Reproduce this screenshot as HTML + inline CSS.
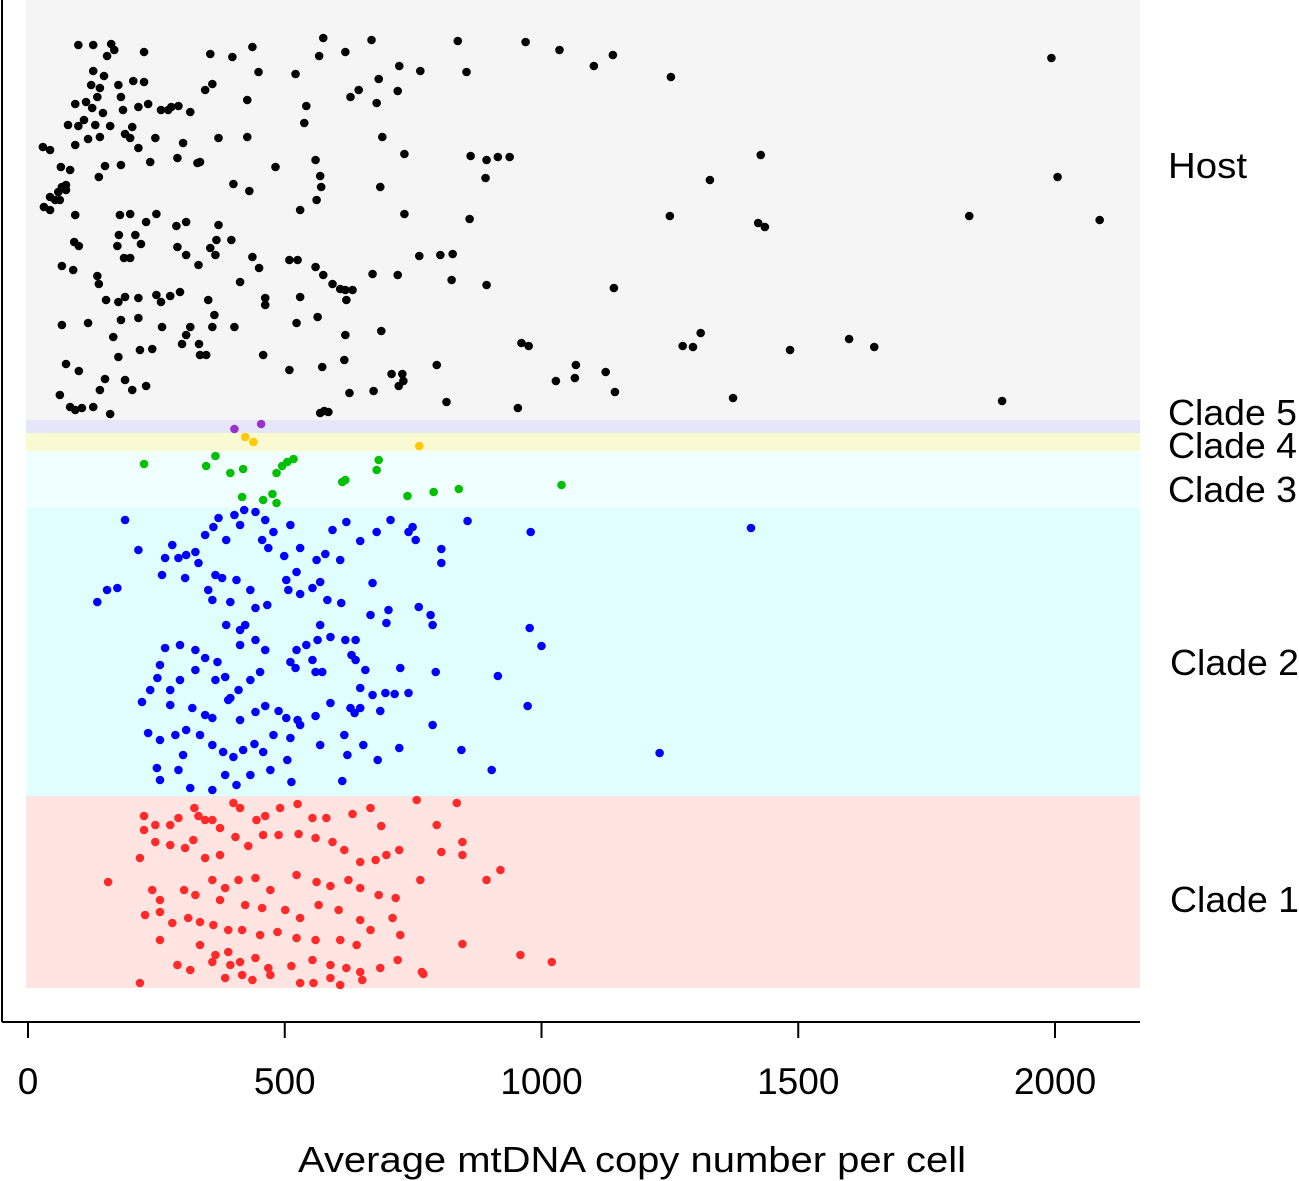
<!DOCTYPE html>
<html><head><meta charset="utf-8"><style>
html,body{margin:0;padding:0;background:#fff}
svg{display:block}
text{font-family:"Liberation Sans",sans-serif;fill:#000}
</style></head><body>
<svg id="chart" width="1299" height="1181" viewBox="0 0 1299 1181" xmlns="http://www.w3.org/2000/svg">
<g id="bands"></g>
<g id="points"></g>
<g id="axes">
<line x1="2" y1="0" x2="2" y2="1022" stroke="#000" stroke-width="2"/>
<line x1="2" y1="1022" x2="1140" y2="1022" stroke="#000" stroke-width="2"/>
</g>
<g id="ticks"></g>
<text x="298" y="1172" font-size="36" textLength="668" lengthAdjust="spacingAndGlyphs">Average mtDNA copy number per cell</text>
<g id="labels"></g>
</svg>
<script>
const tickValues=[0,500,1000,1500,2000];
const tickLabels=["0","500","1000","1500","2000"];
const bandNames=["Host","Clade 5","Clade 4","Clade 3","Clade 2","Clade 1"];
const host_values=[98,127,162,226,355,398,437,449,521,575,567,618,669,723,764,837,854,969,1035,1102,1139,1252,1993,2005,1833,2087,1897,1373,1328,1250,1435,1422,1427,1599,1648,1484,1275,1295,1310,1141,1143,1125,1067,1065,1028,961,975,954,862,893,915,938,891,860,825,893,733,733,686,690,720,679,683,644,628,560,569,571,542,538,562,560,575,525,509,523,564,618,608,632,671,720,573,626,673,708,722,729,731,815,577,569,585,509,458,402,413,462,462,437,396,400,427,371,345,359,427,279,293,259,316,330,302,335,291,238,215,203,150,138,117,92,29,43,64,74,66,59,43,31,43,53,62,74,92,90,99,66,88,135,138,152,176,189,215,215,250,259,277,296,291,308,332,355,367,371,365,351,363,359,316,308,333,347,335,300,261,242,218,176,166,181,117,66,74,99,150,140,203,230,82,92,105,127,62,160,189,187,199,174,177,220,209,230,250,289,308,199,179,113,92,98,131,125,140,148,127,123,176,181,185,189,82,248,215,234,273,140,199,226,205,146,160,109,78,168,154,135,181,530,450,431,482,530,803,827,762,688,616,593,618,620,796];
const host_jitter=[45,45,44,52,54,57,47,72,74,38,56,52,40,66,71,41,72,42,50,66,55,77,58,177,216,220,401,398,180,216,227,223,155,339,347,350,346,347,333,288,392,372,365,378,381,343,346,408,156,160,157,157,178,219,280,285,154,214,187,137,91,103,79,90,97,160,176,187,106,123,200,267,275,260,260,323,317,335,289,290,274,275,367,393,391,374,386,374,381,402,411,413,412,370,355,327,282,298,305,257,240,184,137,138,90,84,100,107,106,110,112,163,143,162,158,162,148,127,166,177,139,145,147,150,167,185,187,192,197,207,210,200,200,190,215,242,246,266,270,276,284,300,302,297,298,318,295,302,296,292,247,255,265,248,240,225,255,300,315,327,327,335,344,355,355,344,327,349,350,357,337,320,323,325,364,371,379,390,390,386,407,410,408,407,395,414,380,258,258,246,235,244,235,222,214,226,222,214,215,102,104,126,125,108,88,76,71,85,85,97,110,134,170,138,107,104,110,137,138,82,81,113,126,120,125,50,56,97,165,297,268,191,167,210,255,254,256,331,360,284,290,300,365];
const c5_values=[402,454];
const c5_jitter=[9,4];
const c4_values=[423,439,762];
const c4_jitter=[4,9,13];
const c3_values=[226,347,365,394,419,484,495,505,517,683,679,618,612,417,458,476,484,739,790,839,1039];
const c3_jitter=[13,15,5,22,18,22,15,11,8,9,19,29,31,46,49,43,52,45,41,38,34];
const c2_values=[189,215,174,154,135,261,267,281,293,308,326,306,332,345,361,371,386,402,413,421,443,456,468,478,462,511,530,562,579,593,620,647,679,706,741,749,755,805,805,856,979,1408,499,523,503,507,530,554,569,608,569,583,610,671,702,698,784,788,761,667,638,618,589,564,542,523,511,521,560,573,554,630,638,657,725,794,647,671,696,714,741,686,647,636,628,589,560,525,503,488,462,443,413,394,365,326,296,277,252,257,267,296,326,345,369,384,413,423,443,466,433,406,378,365,351,359,394,386,413,443,462,452,433,410,390,359,345,335,308,287,257,234,222,238,277,320,359,380,400,419,441,458,472,433,406,384,359,316,293,257,251,302,478,511,530,569,616,622,653,681,723,788,844,903,973,915,1000,977,1230,612,513,505];
const c2_jitter=[12,42,80,82,94,67,50,37,50,47,44,70,55,27,19,10,32,7,17,2,4,32,40,24,12,17,40,52,46,22,14,33,24,12,24,19,32,41,55,13,24,20,48,64,72,82,86,80,74,52,117,92,95,75,102,115,107,117,99,107,132,132,129,132,137,142,154,160,164,164,152,147,152,162,160,164,180,187,185,186,185,203,200,205,200,195,208,212,210,203,198,204,212,190,172,162,172,182,170,157,140,137,142,150,154,169,122,117,100,97,82,72,70,67,82,92,94,117,137,132,142,164,172,182,192,210,207,227,222,227,232,225,194,182,197,200,237,244,249,242,236,244,262,267,277,267,282,280,262,272,260,247,227,230,217,237,227,247,237,252,240,217,242,262,198,168,138,120,245,273,274,252];
const c1_values=[226,226,248,277,293,324,332,345,359,374,400,413,445,462,491,525,554,581,632,667,688,757,835,796,846,846,805,723,698,677,647,616,593,560,527,488,458,429,404,374,345,322,306,277,248,218,156,242,257,228,257,304,326,359,384,410,443,472,523,562,589,624,647,683,716,764,893,920,374,423,456,501,530,566,605,647,667,710,725,640,608,560,523,486,452,417,390,361,335,312,281,257,335,365,390,413,443,468,513,554,589,620,647,686,720,359,291,316,394,417,437,472,530,556,589,608,651,218,384,846,959,1020,767,770];
const c1_jitter=[20,34,29,29,22,12,20,24,24,32,7,12,24,20,12,8,22,22,18,12,30,4,7,29,46,59,56,54,59,64,66,54,46,42,38,39,39,50,41,59,62,44,52,49,46,62,86,94,104,119,116,94,99,84,92,84,82,94,79,86,90,84,92,99,102,84,84,74,104,109,112,114,122,109,114,124,134,122,139,149,144,144,142,136,139,134,134,129,126,122,127,144,149,159,156,166,162,172,170,164,169,172,176,172,164,166,169,174,169,179,184,179,187,187,182,189,184,187,182,148,159,166,176,178];

const NS="http://www.w3.org/2000/svg";
const X0=28, XS=0.5135, XR=1140, XL=26;
function xScale(v){return X0+v*XS;}
const bands=[
 {name:"host",top:0,h:420,fill:"#f5f5f5",color:"#000",vals:host_values,jit:host_jitter,label:"Host",lx:1168,ly:178,tl:79},
 {name:"clade-5",top:420,h:13,fill:"#e6e6fa",color:"#9932cc",vals:c5_values,jit:c5_jitter,label:"Clade 5",lx:1168,ly:425,tl:129},
 {name:"clade-4",top:433,h:18,fill:"#fafad2",color:"#ffc800",vals:c4_values,jit:c4_jitter,label:"Clade 4",lx:1168,ly:458,tl:129},
 {name:"clade-3",top:451,h:57,fill:"#f0ffff",color:"#00c000",vals:c3_values,jit:c3_jitter,label:"Clade 3",lx:1168,ly:502,tl:129},
 {name:"clade-2",top:508,h:288,fill:"#e0ffff",color:"#0000ff",vals:c2_values,jit:c2_jitter,label:"Clade 2",lx:1170,ly:675,tl:129},
 {name:"clade-1",top:796,h:192,fill:"#ffe4e1",color:"#ff2a2a",vals:c1_values,jit:c1_jitter,label:"Clade 1",lx:1170,ly:912,tl:129}
];
const gB=document.getElementById("bands"),gP=document.getElementById("points"),gL=document.getElementById("labels"),gT=document.getElementById("ticks");
bands.forEach(b=>{
 const r=document.createElementNS(NS,"rect");
 r.setAttribute("x",XL);r.setAttribute("y",b.top);r.setAttribute("width",XR-XL);r.setAttribute("height",b.h);r.setAttribute("fill",b.fill);
 
 
 gB.appendChild(r);
 b.vals.forEach((v,i)=>{
  const c=document.createElementNS(NS,"circle");
  c.setAttribute("cx",xScale(v));c.setAttribute("cy",b.top+b.jit[i]);c.setAttribute("r",4.3);c.setAttribute("fill",b.color);
  
  
  gP.appendChild(c);
 });
 const t=document.createElementNS(NS,"text");
 t.setAttribute("x",b.lx);t.setAttribute("y",b.ly);t.setAttribute("font-size","36");t.textContent=b.label;
 t.setAttribute("textLength",b.tl);t.setAttribute("lengthAdjust","spacingAndGlyphs");
 
 
 gL.appendChild(t);
});
tickValues.forEach((v,i)=>{
 const l=document.createElementNS(NS,"line");
 l.setAttribute("x1",xScale(v));l.setAttribute("x2",xScale(v));l.setAttribute("y1",1022);l.setAttribute("y2",1038);l.setAttribute("stroke","#000");l.setAttribute("stroke-width","2");
 
 
 gT.appendChild(l);
 const t=document.createElementNS(NS,"text");
 t.setAttribute("x",xScale(v));t.setAttribute("y",1094);t.setAttribute("font-size","37");t.setAttribute("text-anchor","middle");t.textContent=tickLabels[i];
 
 
 gT.appendChild(t);
});
</script>
</body></html>
